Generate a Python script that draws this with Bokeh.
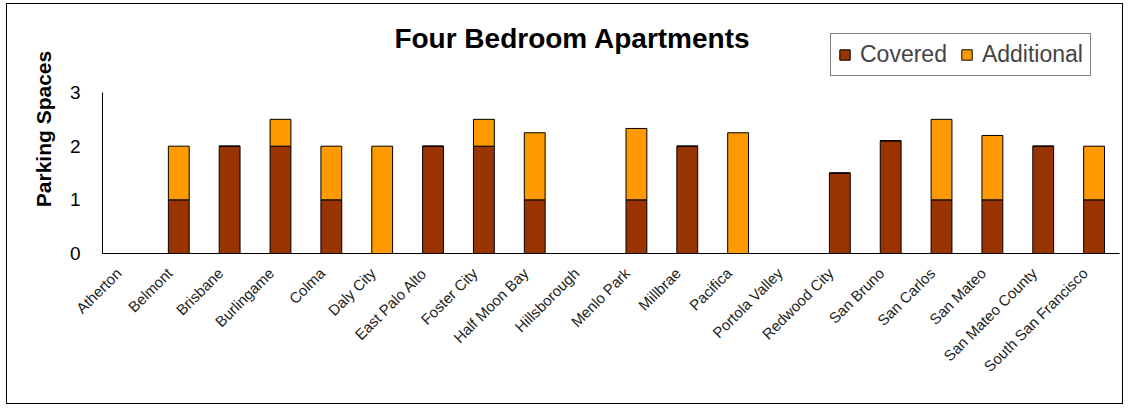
import math
from bokeh.plotting import figure
from bokeh.models import (FactorRange, Range1d, FixedTicker, Legend, LegendItem, Label,
                          LinearAxis)
from bokeh.embed import file_html
from bokeh.resources import INLINE

cities = ["Atherton", "Belmont", "Brisbane", "Burlingame", "Colma", "Daly City",
          "East Palo Alto", "Foster City", "Half Moon Bay", "Hillsborough",
          "Menlo Park", "Millbrae", "Pacifica", "Portola Valley", "Redwood City",
          "San Bruno", "San Carlos", "San Mateo", "San Mateo County",
          "South San Francisco"]
covered = [0, 1, 2, 2, 1, 0, 2, 2, 1, 0, 1, 2, 0, 0, 1.5, 2.1, 1, 1, 2, 1]
additional = [0, 1, 0, 0.5, 1, 2, 0, 0.5, 1.25, 0, 1.33, 0, 2.25, 0, 0, 0, 1.5, 1.2, 0, 1]
series = ["Covered", "Additional"]
colors = ["#993300", "#FF9900"]
y_ticks = [0, 1, 2, 3]

FONT = "Liberation Sans"

# frame spans from the canvas top down to the x axis; the y axis is bounded to 0..3
p = figure(x_range=FactorRange(factors=cities), y_range=Range1d(0, 4.64),
           width=1117, height=401, output_backend="svg", toolbar_location=None,
           x_axis_location=None,
           min_border_left=95, min_border_right=5, min_border_top=0,
           min_border_bottom=152)
p.margin = (3, 0, 0, 6)
p.styles = {"border": "1px solid #000", "box-sizing": "border-box"}
p.outline_line_color = None
p.xgrid.visible = False
p.ygrid.visible = False
p.background_fill_color = "white"
p.border_fill_color = "white"

data = {"city": cities, "Covered": covered, "Additional": additional}
rs = p.vbar_stack(series, x="city", width=0.41, source=data, color=colors,
                  line_color="black", line_width=1)

# y axis
p.yaxis.bounds = (0, 3)
p.yaxis.ticker = FixedTicker(ticks=y_ticks)
p.yaxis.major_tick_line_color = None
p.yaxis.minor_tick_line_color = None
p.yaxis.axis_line_color = "black"
p.yaxis.major_label_text_font = FONT
p.yaxis.major_label_text_font_size = "19px"
p.yaxis.major_label_text_color = "black"
p.yaxis.major_label_standoff = 16
p.yaxis.axis_label = "Parking Spaces"
p.yaxis.axis_label_text_font = FONT
p.yaxis.axis_label_text_font_style = "bold"
p.yaxis.axis_label_text_font_size = "21px"
p.yaxis.axis_label_text_color = "black"
p.yaxis.axis_label_standoff = 12

# x axis: category names placed (in the factor range's synthetic coordinates)
# at the category centres, nudged slightly left like the original
n = len(cities)
shift = 0.18
centres = [i + 0.5 - shift for i in range(n)]
xaxis = LinearAxis(ticker=FixedTicker(ticks=centres),
                   major_label_overrides={c: name for c, name in zip(centres, cities)})
xaxis.major_tick_line_color = None
xaxis.minor_tick_line_color = None
xaxis.axis_line_color = "black"
xaxis.major_label_orientation = math.pi / 4
xaxis.major_label_text_font = FONT
xaxis.major_label_text_font_size = "15px"
xaxis.major_label_text_color = "#222222"
xaxis.major_label_standoff = 11
p.add_layout(xaxis, "below")

title = Label(x=470, y=215, x_units="screen", y_units="screen",
              text="Four Bedroom Apartments", text_align="center",
              text_baseline="middle", text_font=FONT, text_font_style="bold",
              text_font_size="28px", text_color="black")
p.add_layout(title)

legend = Legend(items=[LegendItem(label=s, renderers=[r]) for s, r in zip(series, rs)],
                orientation="horizontal", location=(728, 177),
                label_text_font=FONT, label_text_font_size="23px",
                glyph_width=13, glyph_height=13, spacing=13, padding=7,
                margin=0, label_standoff=9, border_line_color="black",
                border_line_width=1, background_fill_alpha=1)
p.add_layout(legend, "center")

open("out.html", "w").write(file_html(p, INLINE))
